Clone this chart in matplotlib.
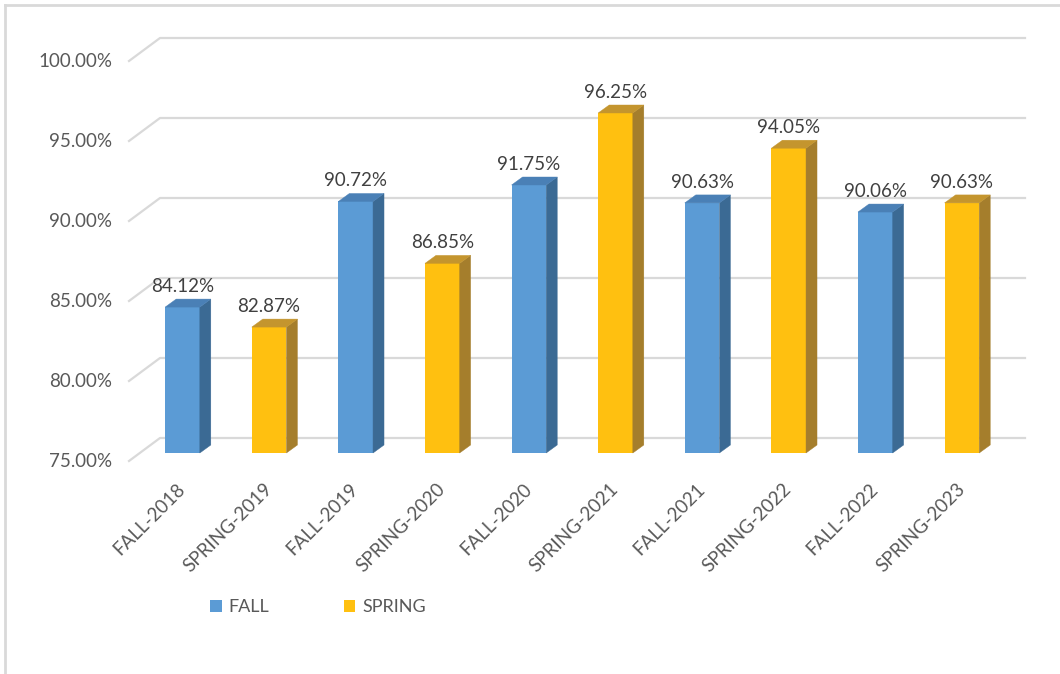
import matplotlib
matplotlib.use('Agg')
import matplotlib.pyplot as plt
from matplotlib.patches import Polygon
from matplotlib.lines import Line2D
import numpy as np

plt.rcParams['font.family'] = ['Lato', 'DejaVu Sans']

categories = ['FALL-2018', 'SPRING-2019', 'FALL-2019', 'SPRING-2020', 'FALL-2020',
              'SPRING-2021', 'FALL-2021', 'SPRING-2022', 'FALL-2022', 'SPRING-2023']
values = [84.12, 82.87, 90.72, 86.85, 91.75, 96.25, 90.63, 94.05, 90.06, 90.63]
series = ['FALL', 'SPRING', 'FALL', 'SPRING', 'FALL', 'SPRING', 'FALL', 'SPRING', 'FALL', 'SPRING']
yticks = [75, 80, 85, 90, 95, 100]

colors = {'FALL': ('#5B9BD5', '#3B6A94', '#4A80B6'),
          'SPRING': ('#FFC010', '#A57E2C', '#C4952E')}

W, H = 1060, 674
fig = plt.figure(figsize=(W / 100, H / 100), dpi=100)
ax = fig.add_axes([0, 0, 1, 1])

# pixel scale: 86.6 px per category, 16 px per percent point
xpx, x0 = 86.6, 182.5
ypx, base, y0 = 16.0, 75.0, 453.0
ax.set_xlim(-x0 / xpx, (W - x0) / xpx)
ax.set_ylim(base - (H - y0) / ypx, base + y0 / ypx)
ax.axis('off')

bw = 0.40
dx, dy = 11 / xpx, 8 / ypx
back = 15 / ypx
front = -8 / ypx
gx0, gx1 = (160 - x0) / xpx, (1025 - x0) / xpx
dxl = (129 - x0) / xpx
grid_c = '#D9D9D9'
fs = 13.5

for g in yticks:
    ax.plot([dxl, gx0, gx1], [g + front, g + back, g + back], color=grid_c, lw=1.6, zorder=1)
    ax.text((112 - x0) / xpx, g + front, '%.2f%%' % g, ha='right', va='center',
            fontsize=fs, color='#595959')

x = np.arange(len(categories))
for s in ['FALL', 'SPRING']:
    idx = [i for i in x if series[i] == s]
    v = np.array([values[i] for i in idx])
    fc, sc, tc = colors[s]
    ax.bar(idx, v - base, bottom=base, width=bw, color=fc, label=s, zorder=3)
    for xi, vi in zip(idx, v):
        r = xi + bw / 2
        l = xi - bw / 2
        ax.add_patch(Polygon([(r, base), (r + dx, base + dy), (r + dx, vi + dy), (r, vi)],
                             closed=True, facecolor=sc, edgecolor=sc, lw=0.3, zorder=3))
        ax.add_patch(Polygon([(l, vi), (r, vi), (r + dx, vi + dy), (l + dx, vi + dy)],
                             closed=True, facecolor=tc, edgecolor=tc, lw=0.3, zorder=3))

for xi, vi in zip(x, values):
    ax.text(xi, vi + dy + 0.45, '%.2f%%' % vi, ha='center', va='baseline',
            fontsize=fs, color='#404040', zorder=4)
    ax.text(xi, base - (486 - y0) / ypx, categories[xi], rotation=45, rotation_mode='anchor',
            ha='right', va='center', fontsize=fs, color='#595959')

fig.legend(loc='center', bbox_to_anchor=(0.30, 1 - 607 / H), ncol=2, frameon=False,
           fontsize=13, handlelength=0.65, handleheight=0.65, handletextpad=0.4,
           columnspacing=4.1, labelcolor='#595959')

# chart border (top and left edges visible)
fig.add_artist(Line2D([5 / W, 5 / W], [0, 1 - 5 / H], color='#D9D9D9', lw=2, transform=fig.transFigure))
fig.add_artist(Line2D([5 / W, 1], [1 - 5 / H, 1 - 5 / H], color='#D9D9D9', lw=2, transform=fig.transFigure))

fig.savefig('out.png', dpi=100)
